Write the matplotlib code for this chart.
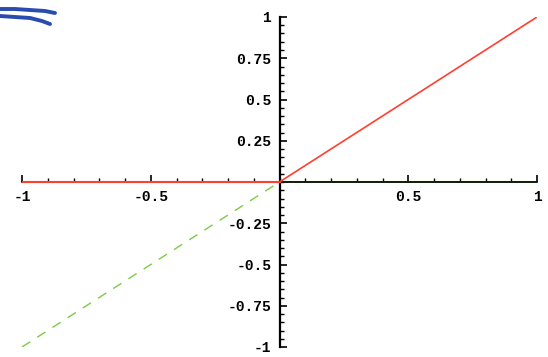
import numpy as np
import matplotlib.pyplot as plt
from matplotlib.ticker import MultipleLocator, FixedLocator

# --- data ---
x_neg = [-1.0, 0.0]
x_pos = [0.0, 1.0]
relu_neg = [0.0, 0.0]
relu_pos = [0.0, 1.0]
lin_neg = [-1.0, 0.0]
zero_pos = [0.0, 0.0]

xtick_vals = [-1, -0.5, 0.5, 1]
xtick_labels = ['-1', '-0.5', '0.5', '1']
ytick_vals = [-1, -0.75, -0.5, -0.25, 0.25, 0.5, 0.75, 1]
ytick_labels = ['-1', '-0.75', '-0.5', '-0.25', '0.25', '0.5', '0.75', '1']

# hand-drawn pen marks in the top-left corner (figure pixels)
pen1_x = [0, 15, 30, 45, 55]
pen1_y = [9, 9, 10, 11, 13]
pen2_x = [0, 15, 30, 42, 50]
pen2_y = [16, 17, 18, 21, 24]

fig = plt.figure(figsize=(5.48, 3.57), dpi=100)
ax = fig.add_axes([22 / 548, 1 - 347 / 357, (537 - 22) / 548, (347 - 17) / 357])

ax.plot(x_neg, lin_neg, color='#7acc44', lw=1, dashes=(7, 6), zorder=3)
ax.plot(x_pos, zero_pos, color='#7acc44', lw=1.4, zorder=2)
ax.plot(x_neg, relu_neg, color='#ff4030', lw=1.5, zorder=4)
ax.plot(x_pos, relu_pos, color='#ff4030', lw=1.2, zorder=4)

ax.set_xlim(-1, 1)
ax.set_ylim(-1, 1)

for s in ['top', 'right']:
    ax.spines[s].set_visible(False)
ax.spines['left'].set_position('zero')
ax.spines['bottom'].set_position('zero')
ax.spines['left'].set_linewidth(1.6)
ax.spines['bottom'].set_linewidth(1.2)

ax.xaxis.set_major_locator(FixedLocator(xtick_vals))
ax.set_xticklabels(xtick_labels)
ax.yaxis.set_major_locator(FixedLocator(ytick_vals))
ax.set_yticklabels(ytick_labels)
ax.xaxis.set_minor_locator(MultipleLocator(0.1))
ax.yaxis.set_minor_locator(MultipleLocator(0.05))

ax.tick_params(axis='both', which='major', direction='in', length=5, width=1.2,
               labelsize=10.5, pad=6)
ax.tick_params(axis='both', which='minor', direction='in', length=3, width=1)
for lab in ax.get_xticklabels() + ax.get_yticklabels():
    lab.set_family('Liberation Mono')
    lab.set_fontweight('bold')

ax.patch.set_alpha(0)

# pen marks
fig.add_artist(plt.Line2D(np.array(pen1_x) / 548, 1 - np.array(pen1_y) / 357,
                          color='#2a4bb0', lw=2.8, solid_capstyle='round'))
fig.add_artist(plt.Line2D(np.array(pen2_x) / 548, 1 - np.array(pen2_y) / 357,
                          color='#2a4bb0', lw=2.8, solid_capstyle='round'))

fig.savefig('out.png', dpi=100)
